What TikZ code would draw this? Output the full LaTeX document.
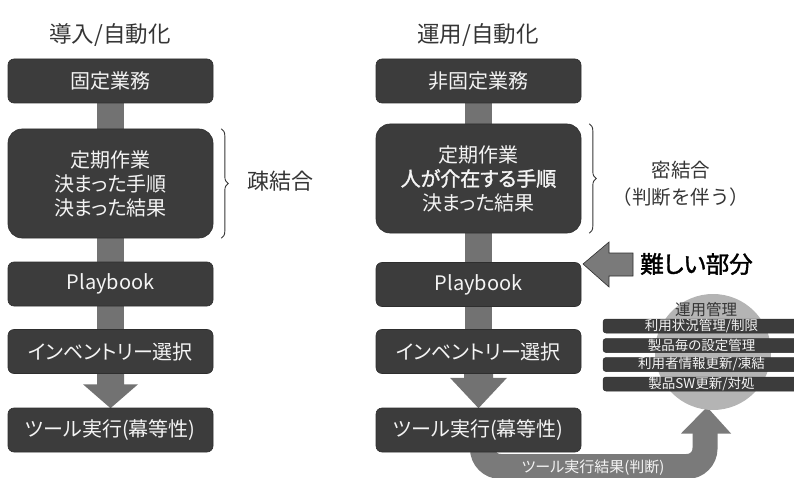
\documentclass[tikz,border=0pt]{standalone}
\usepackage{fontspec}
\setmainfont{Noto Sans CJK JP}[RawFeature=+palt, BoldFont={Noto Sans CJK JP}, BoldFeatures={FakeBold=1.6}]
\newfontfamily\fullw{Noto Sans CJK JP}
\usetikzlibrary{decorations.pathreplacing,backgrounds,calc}
\definecolor{boxc}{HTML}{3C3C3C}
\definecolor{boxedge}{HTML}{2E2E2E}
\definecolor{connc}{HTML}{727272}
\definecolor{titlec}{HTML}{353535}
\definecolor{circc}{HTML}{B4B4B4}
\definecolor{bandc}{HTML}{7A7A7A}
\definecolor{txtc}{HTML}{F4F4F4}
\begin{document}
\begin{tikzpicture}[x=1pt,y=-1pt,
  box/.style={fill=boxc, draw=boxedge, line width=0.6, rounded corners=6, text=txtc,
    font=\fontsize{20}{24}\selectfont, minimum width=205, minimum height=44, inner sep=0, align=center},
  bigbox/.style={box, rounded corners=14, minimum height=109},
  title/.style={text=titlec, font=\fontsize{22.5}{26}\selectfont, inner sep=0},
  lab/.style={text=titlec, font=\fontsize{22}{27}\selectfont, inner sep=0, align=center},
  bar/.style={fill=boxc, draw=boxedge, line width=0.5, rounded corners=3, text=txtc,
    font=\fontsize{13.5}{14}\selectfont, minimum width=197, minimum height=14, inner sep=0},
  bracec/.style={draw=titlec, line width=0.9, decorate, decoration={brace, amplitude=7}},
]
\useasboundingbox (0,0) rectangle (794,478);

% titles
\node[title] (t1) at (110,35) {導入/自動化};
\node[title] (t2) at (478,35) {運用/自動化};

% left column
\node[box] (a1) at (110.5,81) {固定業務};
\node[bigbox] (a2) at (110.5,183.5) {定期作業\\決まった手順\\決まった結果};
\node[box] (a3) at (110.5,284) {Playbook};
\node[box] (a4) at (110.5,351.5) {インベントリー選択};
\node[box] (a5) at (110.5,430) {ツール実行(幕等性)};

% right column
\node[box] (b1) at (478.5,81) {非固定業務};
\node[bigbox] (b2) at (478.5,178.5) {定期作業\\\textbf{人が介在する手順}\\決まった結果};
\node[box] (b3) at (478.5,284.5) {Playbook};
\node[box] (b4) at (478.5,351.5) {インベントリー選択};
\node[box] (b5) at (478.5,430) {ツール実行(幕等性)};

% braces and labels
\draw[bracec] ($(a2.north east)+(8,0)$) -- ($(a2.south east)+(8,0)$);
\node[lab] (l1) at (280,181) {疎結合};
\draw[bracec] ($(b2.north east)+(8,0)$) -- ($(b2.south east)+(8,0)$);
\node[lab, font=\fullw\fontsize{19.5}{27}\selectfont] (l2) at (681,183.5) {密結合\\（判断を伴う）};

% difficult part arrow
\node[text=black, font=\fontsize{23.5}{28}\selectfont\bfseries, inner sep=0, anchor=west] (hard) at (640,264) {難しい部分};
\fill[bandc, draw=boxedge, line width=0.6] (583,264) -- (609,242) -- (609,253) -- (633,253) -- (633,276) -- (609,276) -- (609,287) -- cycle;

% management circle
\node[circle, fill=circc, minimum size=116, inner sep=0] (mg) at (713,352) {};
\node[text=titlec, font=\fontsize{15.5}{16}\selectfont, inner sep=0] (mgt) at (706,310) {運用管理};
\node[bar] (m1) at (701.5,326) {利用状況管理/制限};
\node[bar] (m2) at (701.5,345.5) {製品毎の設定管理};
\node[bar] (m3) at (701.5,364.5) {利用者情報更新/凍結};
\node[bar] (m4) at (701.5,384) {製品SW更新/対処};

% connectors
\begin{pgfonlayer}{background}
\foreach \u/\v in {a1/a2,a2/a3,a3/a4,b1/b2,b2/b3,b3/b4}{
  \fill[connc] ($(\u.south)+(-13.5,-1)$) rectangle ($(\v.north)+(13.5,1)$);
}
\fill[connc] ($(a4.south)+(-13.5,-1)$) -- ($(a4.south)+(13.5,-1)$) -- ($(a4.south)+(13.5,10.5)$)
  -- ($(a4.south)+(27.5,10.5)$) -- ($(a5.north)+(0,0.5)$) -- ($(a4.south)+(-27.5,10.5)$)
  -- ($(a4.south)+(-13.5,10.5)$) -- cycle;
\fill[connc] ($(b4.south)+(-14.5,-1)$) -- ($(b4.south)+(14.5,-1)$) -- ($(b4.south)+(14.5,4)$)
  -- ($(b4.south)+(28.5,4)$) -- ($(b5.north)+(0,0.5)$) -- ($(b4.south)+(-28.5,4)$)
  -- ($(b4.south)+(-14.5,4)$) -- cycle;
% result band
\coordinate (bs) at ($(b5.south)+(4,-10)$);
\coordinate (be) at (705,433);
\draw[bandc, line width=25, rounded corners=18] (bs) |- (be |- 0,466.5) -- (be);
\fill[bandc] (681,433.5) -- (731,433.5) -- (707,407) -- cycle;
\end{pgfonlayer}
\node[text=txtc, font=\fontsize{15}{16}\selectfont, inner sep=0] (res) at (593,468) {ツール実行結果(判断)};
\end{tikzpicture}
\end{document}
